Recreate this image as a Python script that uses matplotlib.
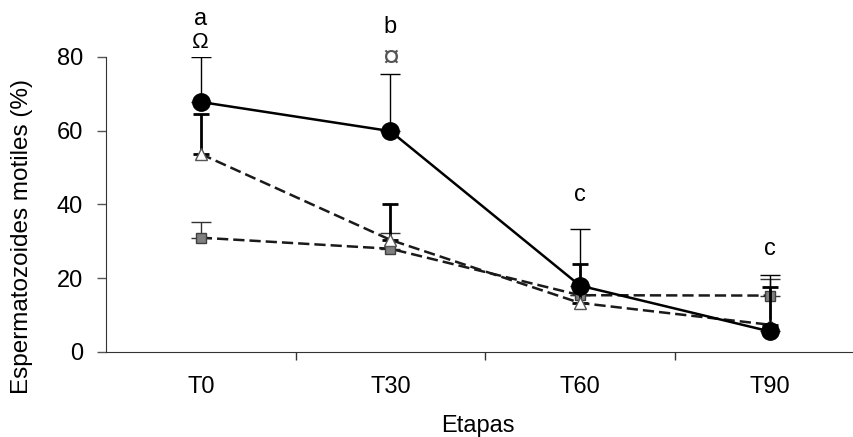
import matplotlib
matplotlib.use("Agg")
import matplotlib.pyplot as plt
import numpy as np

plt.rcParams['font.family'] = ['Liberation Sans', 'DejaVu Sans']

etapas = ["T0", "T30", "T60", "T90"]
circulo = [67.8, 59.9, 18.0, 5.6]
circulo_err = [12.2, 15.6, 15.3, 15.3]
triangulo = [53.7, 30.4, 13.3, 7.4]
triangulo_err = [10.8, 9.8, 10.5, 10.3]
cuadrado = [31.0, 28.0, 15.4, 15.3]
cuadrado_err = [4.2, 4.2, 0.0, 4.5]
letras = ["a", "b", "c", "c"]
letras_y = [88.7, 86.5, 41.0, 26.3]
simbolos = ["Ω", "¤", "", ""]
simbolos_y = [82.4, 77.3, 0, 0]

fig = plt.figure(figsize=(8.54, 4.37), dpi=100)
ax = fig.add_axes([106 / 854, 85 / 437, 747 / 854, 295 / 437])
x = np.arange(len(etapas))

ax.errorbar(x, cuadrado, yerr=[np.zeros(4), cuadrado_err], fmt='none', ecolor='#333333',
            elinewidth=1.0, capsize=7, capthick=1.0, zorder=2)
ax.plot(x, cuadrado, linestyle=(0, (4.5, 2)), color='#1a1a1a', linewidth=1.8,
        marker='s', markersize=7.5, markerfacecolor='#7f7f7f', markeredgecolor='#404040',
        markeredgewidth=1.0, zorder=3)

ax.errorbar(x, triangulo, yerr=[np.zeros(4), triangulo_err], fmt='none', ecolor='black',
            elinewidth=2.0, capsize=6, capthick=2.0, zorder=4)
ax.plot(x, triangulo, linestyle=(0, (4.5, 2)), color='#1a1a1a', linewidth=1.8,
        marker='^', markersize=8.5, markerfacecolor='white', markeredgecolor='#555555',
        markeredgewidth=1.0, zorder=5)

ax.errorbar(x, circulo, yerr=[np.zeros(4), circulo_err], fmt='none', ecolor='black',
            elinewidth=1.0, capsize=7, capthick=1.0, zorder=6)
ax.plot(x, circulo, linestyle='-', color='black', linewidth=1.8,
        marker='o', markersize=12.5, markerfacecolor='black', markeredgecolor='black', zorder=7)

for xi, t, ty in zip(x, letras, letras_y):
    ax.text(xi, ty, t, ha='center', va='baseline', fontsize=17, clip_on=False)
for xi, s, sy in zip(x, simbolos, simbolos_y):
    if s == '¤':
        ax.text(xi, sy, s, ha='center', va='baseline', fontsize=22, clip_on=False,
                color='#555555')
    elif s:
        ax.text(xi, sy, s, ha='center', va='baseline', fontsize=16, clip_on=False,
                color='black')

ax.set_xlim(-0.5, 3.44)
ax.set_ylim(0, 80)
ax.set_yticks([0, 20, 40, 60, 80])
ax.set_xticks(x)
ax.set_xticklabels(etapas)
ax.set_xticks([0.5, 1.5, 2.5], minor=True)
ax.tick_params(axis='x', which='major', length=0, pad=17, labelsize=17)
ax.tick_params(axis='x', which='minor', length=6, width=1.0, direction='out', color='#333333')
ax.tick_params(axis='y', length=6.5, width=1.0, direction='out', labelsize=17, pad=10, color='#555555')
for s in ['top', 'right']:
    ax.spines[s].set_visible(False)
ax.spines['left'].set_color('#333333')
ax.spines['bottom'].set_color('#333333')

fig.text(477.5 / 854, 1 - 432 / 437, "Etapas", fontsize=17, ha='center', va='baseline')
fig.text(22 / 854, 1 - 236.5 / 437, "Espermatozoides motiles (%)", fontsize=17.5,
         ha='center', va='center', rotation=90)

fig.savefig("out.png", dpi=100)
